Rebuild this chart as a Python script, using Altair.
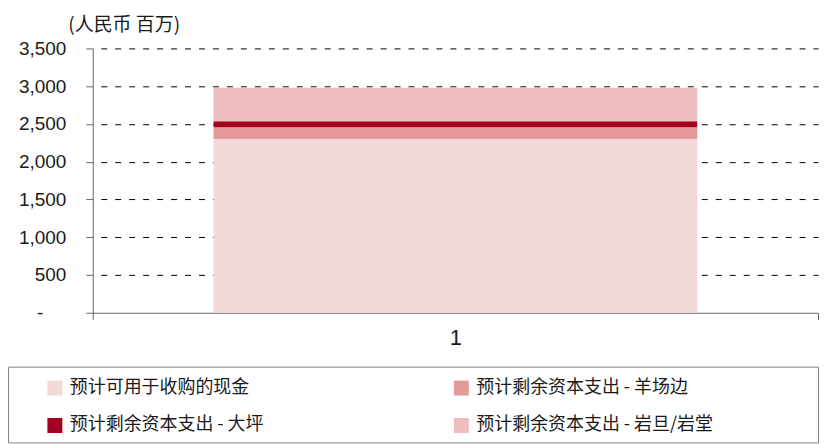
import altair as alt
import pandas as pd

# ---- data ----
categories = ["1"]
series = [
    "预计可用于收购的现金",
    "预计剩余资本支出 - 羊场边",
    "预计剩余资本支出 - 大坪",
    "预计剩余资本支出 - 岩旦/岩堂",
]
values = [2300, 155, 80, 445]
colors = ["#F4D9DA", "#E49A9A", "#A50021", "#EFBDBD"]
y_ticks = [0, 500, 1000, 1500, 2000, 2500, 3000, 3500]
unit_label = "(人民币 百万)"

df = pd.DataFrame({
    "cat": categories * len(series),
    "series": series,
    "value": values,
    "order": list(range(len(series))),
})

leg_df = pd.DataFrame({"series": series, "idx": list(range(len(series)))})
leg_df["col"] = leg_df["idx"] % 2
leg_df["row"] = leg_df["idx"] // 2

color_scale = alt.Scale(domain=series, range=colors)
AX = "#666666"
TXT = "#1a1a1a"

# panel spans the legend frame width (812); the plot itself occupies [85, 812]
bars = alt.Chart(df).mark_bar(width=alt.RelativeBandSize(0.667)).encode(
    x=alt.X(
        "cat:N",
        scale=alt.Scale(paddingInner=0, paddingOuter=0, range=[85, 812]),
        axis=alt.Axis(
            title=None, labelAngle=0, tickBand="extent", ticks=True, tickSize=7,
            tickColor=AX, domainColor=AX, labelFont="Liberation Sans",
            labelFontSize=22, labelColor=TXT, labelPadding=8, grid=False,
        ),
    ),
    y=alt.Y(
        "value:Q",
        stack="zero",
        scale=alt.Scale(domain=[0, 3500], nice=False),
        axis=alt.Axis(
            offset=-85,
            values=y_ticks,
            labelExpr="datum.value == 0 ? '-' : format(datum.value, ',')",
            title=unit_label, titleAngle=0, titleX=-25, titleY=-23.5,
            titleAlign="left", titleBaseline="middle",
            titleFont="Noto Sans CJK SC", titleFontSize=19,
            titleFontWeight="normal", titleColor=TXT,
            grid=True, gridDash=[6, 8], gridDashOffset=6,
            gridColor="#000000", gridWidth=1,
            gridOpacity={"condition": {"test": "datum.value == 0", "value": 0}, "value": 1},
            tickSize=7, tickColor=AX, domainColor=AX,
            labelPadding={"condition": {"test": "datum.value == 0", "value": 43}, "value": 20},
            labelFont="Liberation Sans",
            labelFontSize=19, labelColor=TXT,
        ),
    ),
    color=alt.Color("series:N", scale=color_scale, legend=None),
    order=alt.Order("order:Q", sort="ascending"),
).properties(
    width=812, height=265,
    view=alt.ViewBackground(stroke="transparent", strokeWidth=0),
)

leg_base = alt.Chart(leg_df).encode(
    x=alt.X("col:Q", scale=alt.Scale(domain=[0, 1], range=[47, 454.5]), axis=None),
    y=alt.Y("row:Q", scale=alt.Scale(domain=[0, 1], range=[21.5, 59]), axis=None),
)
leg_sym = leg_base.mark_square(size=225, opacity=1).encode(
    color=alt.Color("series:N", scale=color_scale, legend=None)
)
leg_txt = leg_base.mark_text(
    align="left", baseline="middle", dx=15,
    font="Noto Sans CJK SC", fontSize=18, color=TXT,
).encode(text="series:N")

legend_panel = alt.layer(leg_sym, leg_txt).properties(
    width=812, height=76,
    view=alt.ViewBackground(stroke="#7f7f7f", strokeWidth=1),
)

chart = alt.vconcat(
    bars, legend_panel, spacing=17
).resolve_scale(x="independent", y="independent").properties(
    padding={"left": 7, "top": 15, "right": 7, "bottom": 0},
    background="white",
)

chart.save("out.html", embed_options={"renderer": "svg", "actions": False})
